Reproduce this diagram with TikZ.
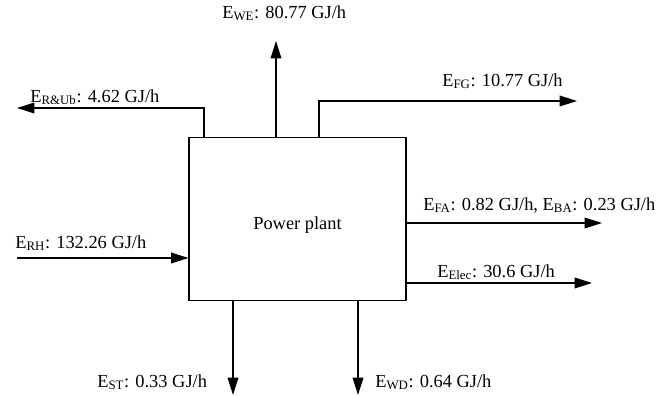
\documentclass[tikz,border=0pt]{standalone}
\usepackage{fontspec}
\setmainfont{Liberation Serif}
\usetikzlibrary{arrows.meta,positioning}
\begin{document}
\begin{tikzpicture}[x=0.75pt,y=-0.75pt,font=\fontsize{13.8}{16}\selectfont,
 >={Triangle[length=13pt,width=8pt]},
 plant/.style={draw,line width=0.8pt,minimum width=162.75pt,minimum height=122.25pt,inner sep=0pt,text height=18pt,text depth=3pt},
 flow/.style={->,line width=1pt},
 lbl/.style={anchor=base west,inner sep=0pt}]
\useasboundingbox (0,0) rectangle (668,396);
\node[plant] (pp) at (297.5,219) {Power plant};
\coordinate (rh) at (17,258);
\coordinate (st) at (233,395);
\coordinate (wd) at (358,395);
\coordinate (fa) at (602,223);
\coordinate (el) at (592,283);
\coordinate (fgb) at (319,101);
\coordinate (fg) at (577,101);
\coordinate (we) at (276,41);
\coordinate (rub) at (204,108);
\coordinate (ru) at (17,108);
\draw[flow] (rh) -- (pp.west |- rh);
\draw[flow] (st |- pp.south) -- (st);
\draw[flow] (wd |- pp.south) -- (wd);
\draw[flow] (pp.east |- fa) -- (fa);
\draw[flow] (pp.east |- el) -- (el);
\draw[flow] (fgb |- pp.north) -- (fgb) -- (fg);
\draw[flow] (we |- pp.north) -- (we);
\draw[flow] (rub |- pp.north) -- (rub) -- (ru);
\node[lbl] (lwe) at (222,18) {E\textsubscript{WE}: 80.77 GJ/h};
\node[lbl] (lru) at (30,102) {E\textsubscript{R\&Ub}: 4.62 GJ/h};
\node[lbl] (lfg) at (442,86) {E\textsubscript{FG}: 10.77 GJ/h};
\node[lbl] (lrh) at (15,248) {E\textsubscript{RH}: 132.26 GJ/h};
\node[lbl] (lfa) at (423,210) {E\textsubscript{FA}: 0.82 GJ/h, E\textsubscript{BA}: 0.23 GJ/h};
\node[lbl] (lel) at (437,277) {E\textsubscript{Elec}: 30.6 GJ/h};
\node[lbl] (lst) at (97,387) {E\textsubscript{ST}: 0.33 GJ/h};
\node[lbl] (lwd) at (375,387) {E\textsubscript{WD}: 0.64 GJ/h};
\end{tikzpicture}
\end{document}
